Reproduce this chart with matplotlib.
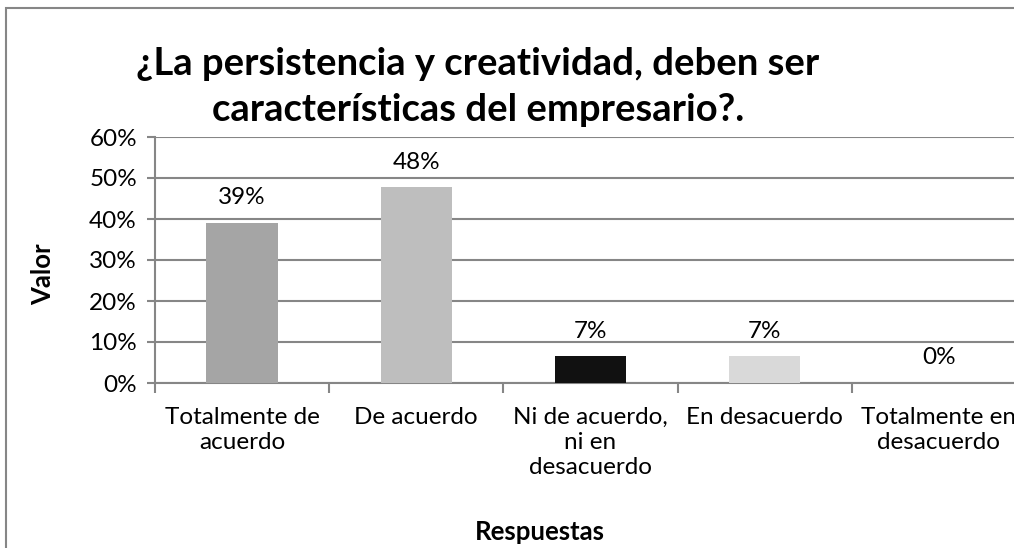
import matplotlib.pyplot as plt
from matplotlib.patches import Rectangle

# datos
categorias = ['Totalmente de\nacuerdo', 'De acuerdo', 'Ni de acuerdo,\nni en\ndesacuerdo',
              'En desacuerdo', 'Totalmente en\ndesacuerdo']
valores = [0.391, 0.478, 0.0652, 0.0652, 0.0]
colores = ['#a5a5a5', '#bebebe', '#111111', '#d9d9d9', '#7f7f7f']
yticks = [0, 0.1, 0.2, 0.3, 0.4, 0.5, 0.6]

plt.rcParams['font.family'] = ['Lato', 'DejaVu Sans']

W, H = 1014, 548
fig = plt.figure(figsize=(W / 100, H / 100), dpi=100)
fig.patch.set_facecolor('white')

# marco del area del grafico (solo se ven arriba e izquierda)
fig.patches.append(Rectangle((6 / W, -0.1), 1.2, 1 - 8 / H + 0.1, transform=fig.transFigure,
                             fill=False, edgecolor='#868686', linewidth=1.5))

ax = fig.add_axes([155 / W, 1 - 383 / H, 871 / W, 246 / H])
x = range(len(categorias))
ax.bar(x, valores, width=0.41, color=colores, zorder=3)

for xi, v in zip(x, valores):
    ax.annotate('{:.0%}'.format(v), (xi, v), xytext=(0, 25), textcoords='offset pixels',
                ha='center', va='center', fontsize=17.5, color='black')

ax.set_xlim(-0.5, len(categorias) - 0.5)
ax.set_ylim(0, 0.6)
ax.set_yticks(yticks)
ax.set_yticklabels(['{:.0%}'.format(t) for t in yticks], fontsize=17.5)
ax.yaxis.grid(True, color='#868686', linewidth=1.5, zorder=0)
ax.set_axisbelow(True)

ax.set_xticks(list(x))
ax.set_xticklabels(categorias, fontsize=17.5, linespacing=1.25)
ax.set_xticks([i - 0.5 for i in range(len(categorias) + 1)], minor=True)
ax.tick_params(axis='x', which='major', length=0, pad=17)
ax.tick_params(axis='x', which='minor', length=7, width=1.5, color='#868686', direction='out')
ax.tick_params(axis='y', length=6, width=1.5, color='#868686', pad=7)

for s in ['top', 'right']:
    ax.spines[s].set_visible(False)
for s in ['left', 'bottom']:
    ax.spines[s].set_color('#868686')
    ax.spines[s].set_linewidth(1.5)

fig.text(478 / W, 1 - 87 / H, '¿La persistencia y creatividad, deben ser\ncaracterísticas del empresario?.',
         ha='center', va='center', fontsize=27.5, fontweight='bold', linespacing=1.45)
fig.text(43 / W, 1 - 274 / H, 'Valor', rotation=90, ha='center', va='center',
         fontsize=18.5, fontweight='bold')
fig.text(540 / W, 1 - 532 / H, 'Respuestas', ha='center', va='center',
         fontsize=18.5, fontweight='bold')

fig.savefig('out.png', dpi=100)
